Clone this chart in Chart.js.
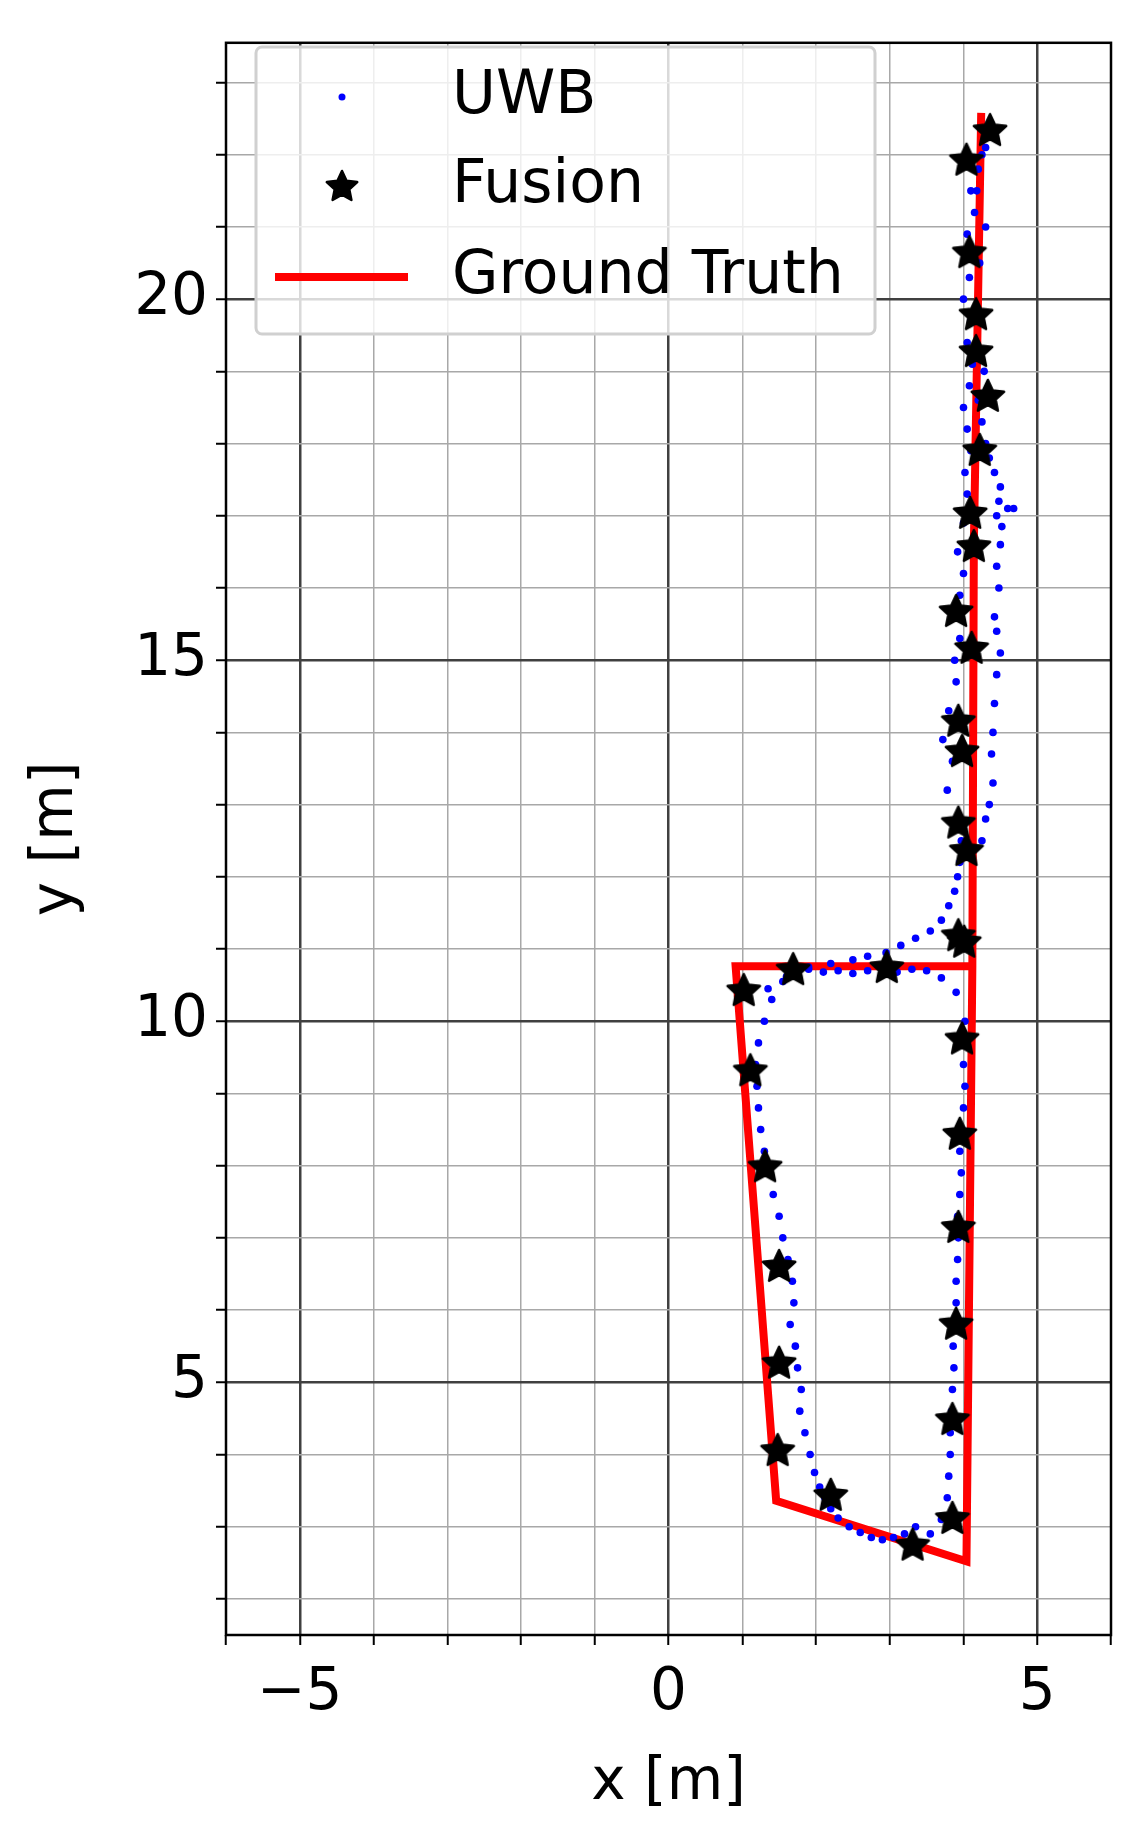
<!DOCTYPE html>
<html><head><meta charset="utf-8">
<script src="https://cdn.jsdelivr.net/npm/chart.js@4.4.0/dist/chart.umd.min.js"></script>
<style>html,body{margin:0;padding:0;background:#fff}#wrap{width:1128px;height:1831px}</style>
</head><body><div id="wrap"><canvas id="c"></canvas></div>
<script>
const groundTruthX = [4.12, 0.91, 1.46, 4.04, 4.12, 4.14, 4.24];
const groundTruthY = [10.76, 10.76, 3.36, 2.52, 10.76, 16.6, 22.58];

const fusionX = [3.31,3.85,3.85,3.90,3.93,3.95,3.98,4.01,3.93,2.96,1.69,1.02,1.11,1.31,1.50,1.50,1.48,2.20,4.04,3.93,3.98,3.93,4.11,3.90,4.14,4.09,4.22,4.33,4.17,4.17,4.08,4.04,4.36];
const fusionY = [2.75,3.12,4.49,5.81,7.15,8.44,9.76,11.10,11.19,10.75,10.72,10.43,9.32,7.99,6.61,5.27,4.06,3.44,12.37,12.75,13.74,14.16,15.17,15.68,16.58,17.04,17.91,18.66,19.28,19.79,20.65,21.93,22.34];

const uwbX = [3.55,3.7,3.78,3.8,3.82,3.82,3.84,3.85,3.87,3.86,3.88,3.9,3.9,3.92,3.93,3.92,3.95,3.97,3.95,3.98,4.0,4.02,4.0,3.98,4.02,
  3.9,3.7,3.5,3.3,3.1,2.9,2.7,2.5,2.3,2.1,1.9,1.7,1.55,1.4,1.3,1.22,1.18,1.2,1.22,1.25,1.3,1.35,1.42,1.5,1.55,1.62,1.68,1.7,1.65,1.72,1.75,1.8,1.78,1.85,1.92,1.98,2.05,2.12,2.2,2.3,2.45,2.6,2.75,2.9,3.05,3.2,3.35,
  1.35,1.6,1.9,2.2,2.5,2.7,2.95,3.15,3.35,3.55,3.7,3.8,3.88,3.92,3.95,3.97,3.9,3.78,3.85,3.72,3.8,3.9,3.88,3.95,3.85,3.95,4.0,3.92,4.0,4.05,4.02,4.1,4.05,4.0,4.08,4.12,4.05,4.1,4.0,4.08,4.12,4.05,4.15,4.1,4.2,4.25,4.3,
  4.25,4.3,4.35,4.4,4.38,4.4,4.42,4.45,4.5,4.45,4.42,4.48,4.45,4.5,4.52,4.45,4.48,4.6,4.68,4.5,4.42,4.35,4.3,4.25,4.2,4.28,4.22,4.3,4.18];
const uwbY = [2.9,3.1,3.4,3.7,4.0,4.3,4.6,4.9,5.2,5.5,5.8,6.1,6.4,6.7,7.0,7.3,7.6,7.9,8.2,8.5,8.8,9.1,9.4,9.7,10.0,
  10.4,10.6,10.7,10.72,10.68,10.66,10.7,10.66,10.7,10.68,10.72,10.66,10.55,10.3,10.0,9.7,9.4,9.1,8.8,8.5,8.2,7.9,7.6,7.3,7.0,6.7,6.4,6.1,5.8,5.5,5.2,4.9,4.6,4.3,4.0,3.75,3.55,3.4,3.25,3.12,3.0,2.92,2.85,2.82,2.85,2.9,3.0,
  10.45,10.62,10.75,10.8,10.85,10.9,10.95,11.05,11.15,11.25,11.4,11.6,11.8,12.0,12.2,12.5,12.8,13.2,13.6,13.9,14.3,14.7,15.0,15.3,15.6,15.9,16.2,16.5,16.9,17.3,17.6,17.9,18.2,18.5,18.8,19.1,19.4,19.7,20.0,20.3,20.6,20.9,21.2,21.5,21.8,22.0,22.1,
  12.5,12.8,13.0,13.3,13.7,14.0,14.4,14.8,15.1,15.4,15.6,16.0,16.3,16.6,16.85,17.0,17.2,17.1,17.1,17.4,17.6,17.8,18.0,18.3,18.6,19.0,20.5,21.0,21.5];

const xTickLabels = [-5, 0, 5];
const yTickLabels = [5, 10, 15, 20];

function pts(xs, ys){ return xs.map((x,i)=>({x:x,y:ys[i]})); }

function makeStar(r, color){
  const c=document.createElement('canvas'); const s=Math.ceil(r*2+6); c.width=s;c.height=s;
  const g=c.getContext('2d'); g.translate(s/2,s/2+1); g.beginPath();
  for(let i=0;i<10;i++){const rr=i%2?r*0.48:r; const a=-Math.PI/2+i*Math.PI/5; g.lineTo(rr*Math.cos(a),rr*Math.sin(a));}
  g.closePath(); g.fillStyle=color; g.fill(); g.lineJoin='round'; g.lineWidth=2.5; g.strokeStyle=color; g.stroke();
  return c;
}
const star = makeStar(17,'#000');
const legendStar = makeStar(16,'#000');
const FONT = 'DejaVu Sans';

const frame = {
  id:'frame',
  afterDraw(ch){
    const a=ch.chartArea, g=ch.ctx;
    g.save(); g.strokeStyle='#000'; g.lineWidth=2.5; g.strokeRect(a.left,a.top,a.right-a.left,a.bottom-a.top);
    const lx=256, ly=47, lw=619, lh=287;
    g.fillStyle='rgba(255,255,255,0.8)'; g.strokeStyle='#d0d0d0'; g.lineWidth=3;
    g.beginPath(); g.roundRect(lx,ly,lw,lh,6); g.fill(); g.stroke();
    g.fillStyle='#000'; g.font='60px "'+FONT+'"'; g.textBaseline='middle';
    const rows=[ly+50, ly+139, ly+230];
    g.fillText('UWB',452,rows[0]); g.fillText('Fusion',452,rows[1]); g.fillText('Ground Truth',452,rows[2]);
    g.fillStyle='#0000ff'; g.beginPath(); g.arc(342,rows[0],3.5,0,Math.PI*2); g.fill();
    g.drawImage(legendStar,342-legendStar.width/2,rows[1]-legendStar.height/2);
    g.strokeStyle='#ff0000'; g.lineWidth=8; g.beginPath(); g.moveTo(275,rows[2]); g.lineTo(408,rows[2]); g.stroke();
    g.restore();
  }
};

function intTicks(sc){ const t=[]; for(let v=Math.ceil(sc.min); v<=Math.floor(sc.max); v++) t.push({value:v}); sc.ticks=t; }

new Chart(document.getElementById('c'),{
  type:'scatter',
  data:{datasets:[
    {label:'Ground Truth',type:'line',data:pts(groundTruthX,groundTruthY),borderColor:'#ff0000',borderWidth:8,pointRadius:0,fill:false,tension:0,order:3},
    {label:'UWB',data:pts(uwbX,uwbY),backgroundColor:'#0000ff',borderWidth:0,pointRadius:3.8,order:2},
    {label:'Fusion',data:pts(fusionX,fusionY),pointStyle:star,order:1}
  ]},
  options:{
    responsive:true, maintainAspectRatio:false, animation:false,
    layout:{padding:{top:-5,right:17,left:0,bottom:0}},
    plugins:{legend:{display:false},tooltip:{enabled:false}},
    scales:{
      x:{type:'linear',min:-6,max:6,afterBuildTicks:intTicks,
        afterFit(s){s.height=196;},
        grid:{color:c=>c.tick&&c.tick.value%5===0?'#404040':'#a8a8a8',lineWidth:c=>c.tick&&c.tick.value%5===0?2.5:1.5,tickLength:10,tickColor:'#000',tickWidth:2},
        border:{display:false},
        ticks:{color:'#000',font:{family:FONT,size:58},padding:14,autoSkip:false,maxRotation:0,callback:v=>xTickLabels.includes(v)?String(v).replace('-','\u2212'):''},
        title:{display:true,text:'x [m]',color:'#000',font:{family:FONT,size:58},padding:{top:0,bottom:12}}},
      y:{type:'linear',min:1.5,max:23.55,afterBuildTicks:intTicks,
        afterFit(s){s.width=226;},
        grid:{color:c=>c.tick&&c.tick.value%5===0?'#404040':'#a8a8a8',lineWidth:c=>c.tick&&c.tick.value%5===0?2.5:1.5,tickLength:10,tickColor:'#000',tickWidth:2},
        border:{display:false},
        ticks:{color:'#000',font:{family:FONT,size:58},padding:8,autoSkip:false,callback:v=>yTickLabels.includes(v)?String(v):''},
        title:{display:true,text:'y [m]',color:'#000',font:{family:FONT,size:58},padding:{top:22,bottom:10}}}
    }
  },
  plugins:[frame]
});
</script></body></html>
